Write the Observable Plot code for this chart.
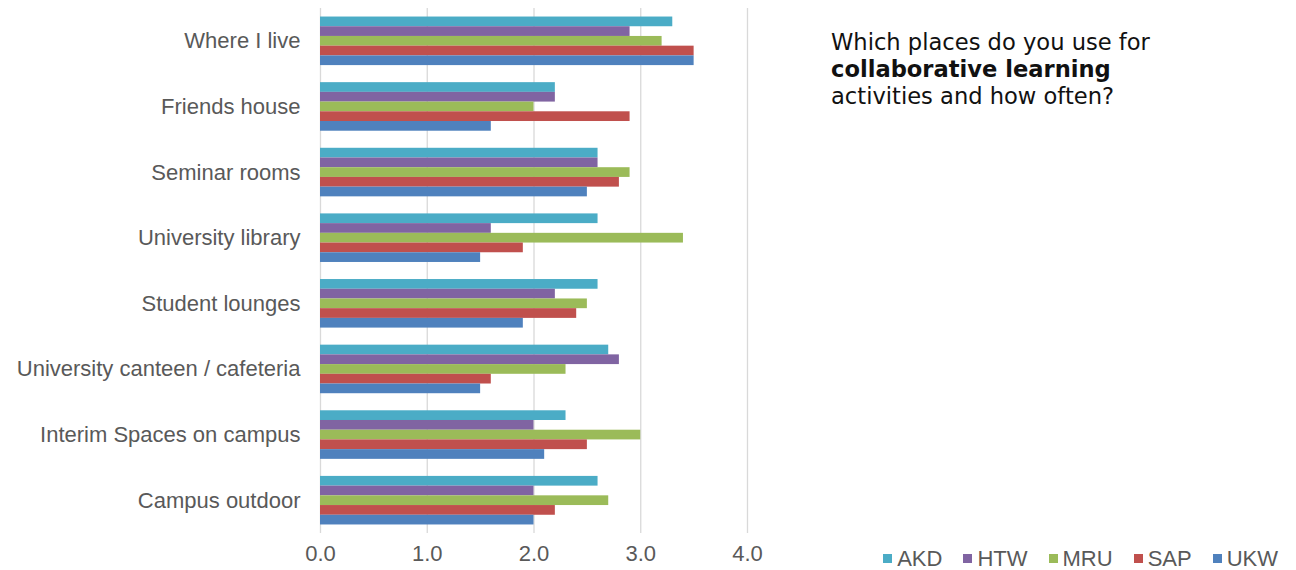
<!DOCTYPE html>
<html>
<head>
<meta charset="utf-8">
<script src="https://cdn.jsdelivr.net/npm/d3@7"></script>
<script src="https://cdn.jsdelivr.net/npm/@observablehq/plot@0.6"></script>
<style>
  body { margin: 0; background: #fff; }
  #wrap { position: relative; width: 1296px; height: 570px; }
  #wrap svg { position: absolute; left: 0; top: 0; }
  #title { position: absolute; left: 831px; top: 29px; font: 22.6px/27px "DejaVu Sans", sans-serif; color: #111; }
  #legend { position: absolute; right: 18px; top: 546px; font: 22px/26px "Liberation Sans", Arial, sans-serif; color: #595959; white-space: nowrap; }
  #legend .item { display: inline-block; margin-left: 21px; }
  #legend .sw { display: inline-block; width: 9px; height: 9px; margin-right: 5px; margin-bottom: 3px; vertical-align: baseline; }
</style>
</head>
<body>
<div id="wrap">
  <div id="title">Which places do you use for<br><b>collaborative learning</b><br>activities and how often?</div>
  <div id="legend"></div>
</div>
<script>
// Places, top to bottom
const categories = [
  "Where I live",
  "Friends house",
  "Seminar rooms",
  "University library",
  "Student lounges",
  "University canteen / cafeteria",
  "Interim Spaces on campus",
  "Campus outdoor"
];

// Institutions and their colours
const series = ["AKD", "HTW", "MRU", "SAP", "UKW"];
const colors = ["#4BACC6", "#8064A2", "#9BBB59", "#C0504D", "#4F81BD"];

// Mean frequency per place, one array per institution
const akd = [3.3, 2.2, 2.6, 2.6, 2.6, 2.7, 2.3, 2.6];
const htw = [2.9, 2.2, 2.6, 1.6, 2.2, 2.8, 2.0, 2.0];
const mru = [3.2, 2.0, 2.9, 3.4, 2.5, 2.3, 3.0, 2.7];
const sap = [3.5, 2.9, 2.8, 1.9, 2.4, 1.6, 2.5, 2.2];
const ukw = [3.5, 1.6, 2.5, 1.5, 1.9, 1.5, 2.1, 2.0];

const xTicks = [0, 1, 2, 3, 4];

const valuesBySeries = [akd, htw, mru, sap, ukw];
const data = [];
categories.forEach((c, i) => {
  series.forEach((s, j) => data.push({category: c, series: s, value: valuesBySeries[j][i]}));
});

// Shared frame so the grid layer and the bar layer line up exactly
const frame = {width: 1296, height: 570, marginLeft: 320, marginRight: 549, marginTop: 8, marginBottom: 37};
const font = {fontFamily: "'Liberation Sans', Arial, sans-serif", fontSize: "22px", color: "#595959", background: "transparent"};

// Continuous vertical gridlines behind every group
const grid = Plot.plot({
  ...frame,
  style: font,
  x: {domain: [0, 4], ticks: xTicks, axis: null},
  marks: [
    Plot.ruleX(xTicks, {stroke: "#d9d9d9", strokeWidth: 1.3})
  ]
});

// Grouped horizontal bars, one facet row per place
const chart = Plot.plot({
  ...frame,
  style: font,
  x: {domain: [0, 4], ticks: xTicks, tickFormat: d3.format(".1f"), tickSize: 0, tickPadding: 20, label: null},
  y: {domain: series, padding: 0, round: false, axis: null},
  fy: {domain: categories, paddingInner: 0.26, paddingOuter: 0.13, round: false, axis: "left", tickSize: 0, tickPadding: 20, label: null},
  color: {domain: series, range: colors},
  marks: [
    Plot.barX(data, {x: "value", y: "series", fy: "category", fill: "series"})
  ]
});

const wrap = document.getElementById("wrap");
wrap.prepend(chart);
wrap.prepend(grid);

// Legend swatches
const legend = document.getElementById("legend");
series.forEach((s, i) => {
  const item = document.createElement("span");
  item.className = "item";
  const sw = document.createElement("span");
  sw.className = "sw";
  sw.style.background = colors[i];
  item.appendChild(sw);
  item.appendChild(document.createTextNode(s));
  legend.appendChild(item);
});
</script>
</body>
</html>
